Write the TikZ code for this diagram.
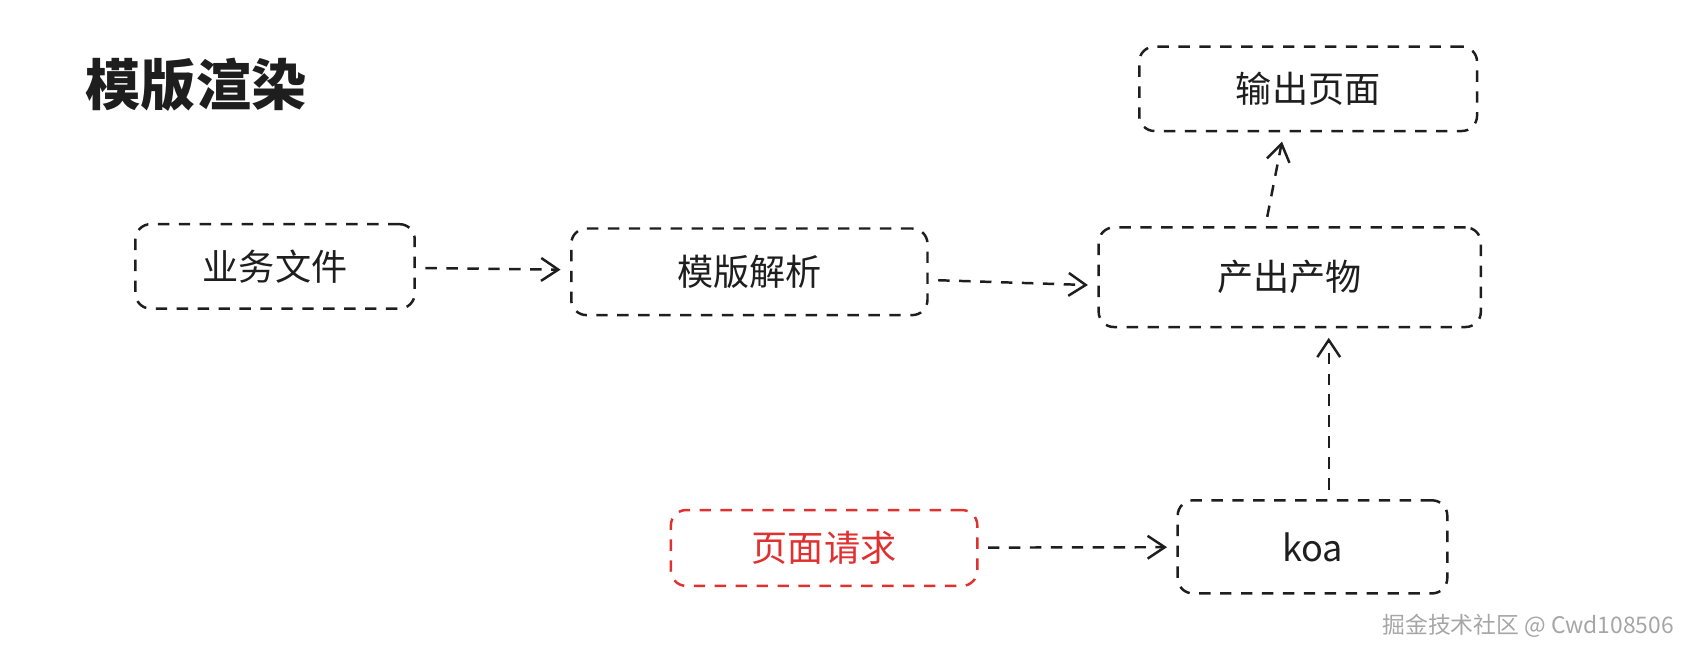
\documentclass[tikz,border=0pt]{standalone}
\usepackage{fontspec}
\setmainfont{Noto Sans CJK SC}
\usetikzlibrary{arrows.meta,positioning}
\definecolor{inkblack}{RGB}{30,30,30}
\definecolor{reqred}{RGB}{224,49,49}
\tikzset{
  box/.style={draw=inkblack, line width=1.3pt, dash pattern=on 6pt off 5pt,
    rounded corners=8pt, font=\fontsize{19}{22}\selectfont, text=inkblack},
  flow/.style={draw=inkblack, line width=1.3pt, dash pattern=on 6pt off 5pt,
    shorten <=5pt, shorten >=5pt,
    -{Straight Barb[length=9pt,width=12pt,line width=1.3pt]}}
}
\begin{document}
\begin{tikzpicture}[x=0.02cm,y=-0.02cm]
    \useasboundingbox (0,0) rectangle (1568,611);
    % Title
    \node[font=\fontsize{29}{32}\selectfont\bfseries, text=inkblack] (title) at (181,78) {模版渲染};

    % Boxes
    \node[box, minimum width=5.16cm, minimum height=1.56cm] (biz) at (254,246) {业务文件};
    \node[box, minimum width=6.58cm, minimum height=1.6cm] (parse) at (692,251) {模版解析};
    \node[box, minimum width=7.06cm, minimum height=1.84cm] (prod) at (1191,256) {产出产物};
    \node[box, minimum width=6.24cm, minimum height=1.56cm] (out) at (1208,82) {输出页面};
    \node[box, minimum width=4.98cm, minimum height=1.72cm] (koa) at (1212,505) {koa};
    \node[box, draw=reqred, text=reqred, minimum width=5.66cm, minimum height=1.4cm] (req) at (761,506) {页面请求};

    % Connectors
    \draw[flow] (biz) -- (parse);
    \draw[flow] ([yshift=-0.15cm]parse.east) -- ([yshift=-0.15cm]prod.west);
    \draw[flow] ([xshift=-0.45cm]prod.north) -- ([xshift=-0.45cm]out.south);
    \draw[flow] ([xshift=0.3cm]koa.north) -- ([xshift=0.3cm]koa.north |- prod.south);
    \draw[flow] (req) -- (koa);

    % Watermark
    \node[font=\fontsize{12}{14}\selectfont, text=gray!70, anchor=east] (mark) at (1552,578) {掘金技术社区 @ Cwd108506};
\end{tikzpicture}
\end{document}
